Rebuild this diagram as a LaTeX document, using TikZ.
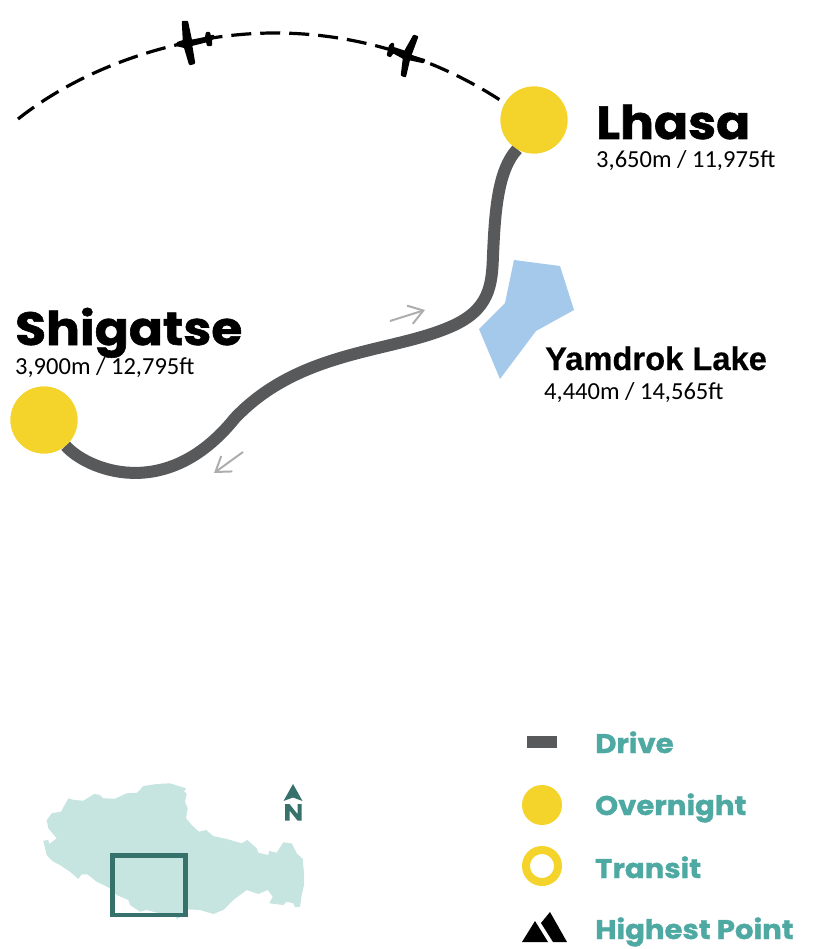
\documentclass[tikz,border=0pt]{standalone}
\usepackage{fontspec}
\setmainfont{Carlito}
\newfontfamily\headfont{Poppins}[UprightFont=* Bold,FakeBold=1.2,FakeStretch=1.08]
\newfontfamily\lakefont{Liberation Sans}[UprightFont=* Bold,FakeBold=0.4]
\usetikzlibrary{arrows.meta}
\definecolor{roadgrey}{HTML}{58595B}
\definecolor{stopyellow}{HTML}{F4D42A}
\definecolor{lakeblue}{HTML}{A5C9EA}
\definecolor{legendteal}{HTML}{4FA9A3}
\definecolor{darkteal}{HTML}{36716B}
\definecolor{mapteal}{HTML}{C6E4E0}
\tikzset{
  stopdot/.style={circle,fill=stopyellow,draw=none,minimum size=67pt,inner sep=0pt},
  legenddot/.style={circle,fill=stopyellow,draw=none,minimum size=40pt,inner sep=0pt},
  ringdot/.style={circle,fill=white,draw=stopyellow,line width=8pt,minimum size=32pt,inner sep=0pt},
  roadline/.style={draw=roadgrey,line width=12pt},
  flightline/.style={draw=black,line width=3.2pt,dash pattern=on 20pt off 9pt},
  planeshape/.style={fill=black,draw=black,line width=2.4pt,line join=round},
  dirarrow/.style={draw=black!32,line width=2pt,-{Straight Barb[length=14pt,width=19pt,line width=2pt]}},
  bigname/.style={anchor=base west,inner sep=0pt,font=\headfont\fontsize{46.5}{46.5}\selectfont},
  lakename/.style={anchor=base west,inner sep=0pt,font=\lakefont\fontsize{32.7}{32.7}\selectfont},
  heighttext/.style={anchor=base west,inner sep=0pt,font=\fontsize{24.5}{24.5}\selectfont},
  legendtext/.style={anchor=base west,inner sep=0pt,text=legendteal,font=\headfont\fontsize{27}{27}\selectfont}
}
\begin{document}
\begin{tikzpicture}[x=1pt,y=-1pt]
\useasboundingbox (0,0) rectangle (818,949);
% flight
\coordinate (flightstart) at (18,119);
\coordinate (flightpeak) at (275,33);
\node[stopdot] (lhasa) at (534,120) {};
\node[stopdot] (shigatse) at (44,420) {};
\draw[flightline] (flightstart) .. controls (90,62) and (190,33) .. (flightpeak) .. controls (360,33) and (440,60) .. (lhasa.150);
\draw[roadline] (shigatse.-50) .. controls (85,468) and (165,505) .. (235,418) .. controls (300,350) and (390,353) .. (450,327) .. controls (490,310) and (492,285) .. (493,255) .. controls (495,210) and (498,170) .. (lhasa.-120);
\node[stopdot] at (lhasa) {};
\node[stopdot] at (shigatse) {};
% planes
\fill[planeshape] (183,22) -- (187,22) -- (191,41) -- (206,38) -- (207,33) -- (209,33) -- (210,37) -- (213,36) -- (213,38) -- (211,39) -- (211,45) -- (208,45) -- (207,41) -- (191,45) -- (194,63) -- (190,64) -- (185,47) -- (177,45) -- (178,43) -- (184,41) -- cycle;
\fill[planeshape] (414,36) -- (417,37) -- (410,56) -- (424,60) -- (423,62) -- (409,59) -- (405,76) -- (402,75) -- (404,58) -- (393,52) -- (390,56) -- (388,55) -- (390,46) -- (392,44) -- (393,44) -- (393,48) -- (405,52) -- cycle;
% lake
\fill[lakeblue] (514,260) -- (560,266) -- (574,310) -- (536,331) -- (500,379) -- (479,329) -- (505,303) -- cycle;
% arrows
\coordinate (upstart) at (390,321); \coordinate (uptip) at (425,310);
\coordinate (downstart) at (243,452); \coordinate (downtip) at (214,473);
\draw[dirarrow] (upstart) -- (uptip);
\draw[dirarrow] (downstart) -- (downtip);
% labels
\node[bigname] (lhasaname) at (596,139) {Lhasa};
\node[heighttext] (lhasaheight) at (596,168) {3,650m / 11,975ft};
\node[bigname] (shigatsename) at (15,345) {Shigatse};
\node[heighttext] (shigatseheight) at (15,374) {3,900m / 12,795ft};
\node[lakename] (lakelabel) at (545,370) {Yamdrok Lake};
\node[heighttext] (lakeheight) at (544,399) {4,440m / 14,565ft};
% inset map
\fill[mapteal] plot coordinates {(43.3,840.7) (48.3,840) (49.3,844) (56.7,838.3) (48.3,828.3) (46.7,820) (51.7,813.3) (61,811.7) (68.3,798.3) (74,800) (83.3,800.7) (94.3,794) (100,795) (103.3,798.3) (115,798.7) (126.7,793.3) (137.3,792.7) (143.3,786) (156.7,784) (170,783.3) (186,788.3) (184,791.7) (186.7,793.3) (185,801.7) (187.7,808.3) (186,818.3) (191.7,825) (199,831.7) (206,830) (213.3,836) (226.7,839) (241.7,843.3) (247.3,840) (256.7,848.3) (258.3,852.7) (268.3,855) (269.3,851) (276.7,852.7) (283.3,842.3) (291.7,843.3) (296.7,853.3) (302.7,859) (304,873.3) (304,885) (301.7,895) (300,906.7) (295,907.3) (293.3,903.3) (286.7,901.7) (283.3,905) (269.3,903.3) (272.7,896.7) (267.7,890) (258.3,894) (246.7,890) (233.3,900) (223.3,910) (213.3,914) (200,910) (186.7,909.3) (184,915) (176.7,919) (175,913.3) (156.7,912.7) (146.7,910) (140,911.7) (130,905) (128.3,900) (116.7,895) (110,888.3) (96.7,881.7) (87.3,874.3) (81.7,874.3) (78.3,879) (70,871.7) (60,865) (53.3,861.7) (50.7,859.3) (46.7,855) (43.3,840.7)} -- cycle;
\draw[darkteal,line width=4.5pt] (112.3,855.3) rectangle (185.7,915);
% north
\fill[darkteal] (293,784) -- (302.5,801) -- (293,797.5) -- (283.5,801) -- cycle;
\fill[darkteal] (285,804) -- (289.5,804) -- (297.5,814) -- (297.5,804) -- (301.5,804) -- (301.5,820.5) -- (297.5,820.5) -- (289.5,810.5) -- (289.5,820.5) -- (285,820.5) -- cycle;
% legend
\node[fill=roadgrey,draw=none,minimum width=30pt,minimum height=12pt,inner sep=0pt] (drivekey) at (542,742) {};
\node[legendtext] (drivetext) at (595,753) {Drive};
\node[legenddot] (overnightkey) at (542,805) {};
\node[legendtext] (overnighttext) at (595,815) {Overnight};
\node[ringdot] (transitkey) at (542,866) {};
\node[legendtext] (transittext) at (595,878) {Transit};
\fill[black] (522,942) -- (535,921) -- (548,942) -- cycle;
\fill[black] (541,923) -- (550,912) -- (567,942) -- (553,942) -- cycle;
\node[legendtext] (highesttext) at (595,939) {Highest Point};
\end{tikzpicture}
\end{document}
